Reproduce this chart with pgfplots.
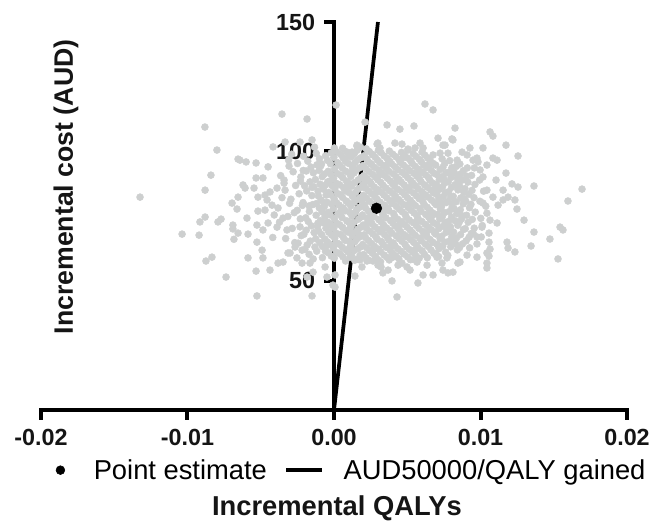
\documentclass[border=0pt]{standalone}
\usepackage{fontspec}
\setmainfont{Liberation Sans}
\usepackage{pgfplots}
\pgfplotsset{compat=1.18}
\definecolor{dotgrey}{HTML}{CDCFCF}
\definecolor{inkblack}{HTML}{151515}
\pgfplotsset{
  pointimg/.style={legend image code/.code={%
    \path[draw=none,fill=none] (0pt,-1pt) rectangle (33pt,1pt);
    \draw[##1] plot coordinates {(10pt,0pt)};}},
  lineimg/.style={legend image code/.code={%
    \path[draw=none,fill=none] (0pt,-1pt) rectangle (41pt,1pt);
    \draw[##1, line width=3pt] (0pt,0pt) -- (27pt,0pt);}},
}
\newcommand{\ticklab}{\fontsize{17.5}{20}\selectfont\bfseries}
\begin{document}
\begin{tikzpicture}
\useasboundingbox (-30.75pt,-87pt) rectangle (456pt,307.5pt);
\begin{axis}[
  scale only axis, width=439.5pt, height=291pt,
  xmin=-0.02, xmax=0.02, ymin=0, ymax=150,
  axis lines=none, xtick=\empty, ytick=\empty,
  clip=false,
  legend columns=2,
  legend style={at={(axis description cs:0.521,-0.155)}, anchor=center,
    draw=none, fill=none, font=\fontsize{20.5}{24}\selectfont,
    nodes={inner sep=0pt},
    /tikz/every odd column/.append style={column sep=2pt},
    /tikz/every even column/.append style={column sep=13pt}},
  legend cell align=left,
]

% axes and ticks (drawn first, so the cloud lies over them)
\addplot[black, line width=3pt, line cap=rect, forget plot] coordinates {(-0.02,0) (0.02,0)};
\addplot[black, line width=3pt, line cap=rect, forget plot] coordinates {(0,0) (0,150)};
\addplot[black, line width=3pt, forget plot] coordinates {(-0.02,0) (-0.02,-3.9)};
\addplot[black, line width=3pt, forget plot] coordinates {(-0.01,0) (-0.01,-3.9)};
\addplot[black, line width=3pt, forget plot] coordinates {(0,0) (0,-3.9)};
\addplot[black, line width=3pt, forget plot] coordinates {(0.01,0) (0.01,-3.9)};
\addplot[black, line width=3pt, forget plot] coordinates {(0.02,0) (0.02,-3.9)};
\addplot[black, line width=3pt, forget plot] coordinates {(0,50) (-0.00068,50)};
\addplot[black, line width=3pt, forget plot] coordinates {(0,100) (-0.00068,100)};
\addplot[black, line width=3pt, forget plot] coordinates {(0,150) (-0.00068,150)};
\node[font=\ticklab, text=inkblack, anchor=north, inner sep=0pt, yshift=-14.5pt] at (axis cs:-0.02,0) {-0.02};
\node[font=\ticklab, text=inkblack, anchor=north, inner sep=0pt, yshift=-14.5pt] at (axis cs:-0.01,0) {-0.01};
\node[font=\ticklab, text=inkblack, anchor=north, inner sep=0pt, yshift=-14.5pt] at (axis cs:0,0) {0.00};
\node[font=\ticklab, text=inkblack, anchor=north, inner sep=0pt, yshift=-14.5pt] at (axis cs:0.01,0) {0.01};
\node[font=\ticklab, text=inkblack, anchor=north, inner sep=0pt, yshift=-14.5pt] at (axis cs:0.02,0) {0.02};
\node[font=\ticklab, text=inkblack, anchor=east, inner sep=0pt, xshift=-14pt] at (axis cs:0,50) {50};
\node[font=\ticklab, text=inkblack, anchor=east, inner sep=0pt, xshift=-14pt] at (axis cs:0,100) {100};
\node[font=\ticklab, text=inkblack, anchor=east, inner sep=0pt, xshift=-14pt] at (axis cs:0,150) {150};

% bootstrap replicates
\addplot[only marks, mark=*, mark size=2.6pt, color=dotgrey, forget plot] coordinates {
% core, first layer
(-0.00245,64.5) (-0.00232,70.8) (-0.00251,77.2) (-0.00238,83.6) (-0.00226,90.1) (-0.00249,95.3)
(-0.00198,62.1) (-0.00206,67.9) (-0.00193,74.3) (-0.00211,80.2) (-0.00201,86.7) (-0.00189,92.4) (-0.00208,98.1)
(-0.00162,65.3) (-0.00155,71.2) (-0.00168,76.8) (-0.00151,82.9) (-0.00164,88.2) (-0.00157,93.9) (-0.0017,60.2)
(-0.00118,61.4) (-0.00125,66.2) (-0.00113,70.9) (-0.00122,75.3) (-0.0012,79.8) (-0.00109,84.6) (-0.00127,89.1) (-0.00116,94.8) (-0.00121,99.2)
(-0.00078,63.2) (-0.00084,67.8) (-0.00075,72.4) (-0.00081,76.6) (-0.00088,81.2) (-0.00073,85.4) (-0.0008,90.2) (-0.00086,95.1) (-0.00079,58.9)
(-0.00038,60.8) (-0.00044,64.9) (-0.00035,68.7) (-0.00042,72.6) (-0.0004,76.4) (-0.00047,80.3) (-0.00036,84.1) (-0.00043,88.2) (-0.00039,92.3) (-0.00045,96.5)
(0.00002,58.7) (-0.00004,62.6) (0.00005,66.4) (-0.00002,70.1) (0.00003,73.9) (-0.00005,77.8) (0.00001,81.6) (0.00006,85.5) (-0.00003,89.4) (0.00004,93.2) (-0.00001,97.6) (0.00002,101.3)
(0.00041,60.4) (0.00036,64.1) (0.00045,67.9) (0.00039,71.6) (0.00043,75.5) (0.00035,79.2) (0.00042,83.3) (0.00038,87.1) (0.00046,90.8) (0.00037,94.7) (0.00044,98.9)
(0.00079,57.6) (0.00084,61.8) (0.00076,65.6) (0.00082,69.3) (0.00088,73.1) (0.00075,77) (0.00083,80.8) (0.00078,84.7) (0.00086,88.4) (0.0008,92.3) (0.00077,96.1) (0.00085,99.8)
(0.00121,59.7) (0.00116,63.5) (0.00125,67.4) (0.00118,71.2) (0.00123,75) (0.00114,78.9) (0.00126,82.6) (0.00119,86.5) (0.00115,90.3) (0.00124,94.2) (0.0012,97.9)
(0.00158,58.3) (0.00164,62.4) (0.00155,66.1) (0.00161,69.9) (0.00167,73.8) (0.00156,77.6) (0.00163,81.5) (0.00159,85.2) (0.00166,89) (0.00154,92.8) (0.00162,96.7) (0.00157,100.4)
(0.00203,60.1) (0.00196,64) (0.00205,67.7) (0.00199,71.5) (0.00194,75.4) (0.00207,79.3) (0.00201,83) (0.00195,86.9) (0.00204,90.6) (0.00198,94.5) (0.00206,98.3)
(0.00237,57.9) (0.00244,61.6) (0.00236,65.5) (0.00242,69.2) (0.00246,73.1) (0.00235,76.9) (0.00243,80.7) (0.00238,84.6) (0.00245,88.3) (0.00239,92.2) (0.00234,96) (0.00241,99.9)
(0.00283,59.4) (0.00276,63.3) (0.00285,67) (0.00279,70.8) (0.00274,74.7) (0.00286,78.5) (0.00281,82.4) (0.00275,86.2) (0.00284,90) (0.00277,93.8) (0.00282,97.7)
(0.00317,61.2) (0.00324,65.1) (0.00315,68.9) (0.00322,72.7) (0.00326,76.5) (0.00316,80.3) (0.00323,84.2) (0.00319,88) (0.00325,91.8) (0.00314,95.6) (0.00321,99.5) (0.00318,57.3)
(0.00362,59) (0.00356,62.9) (0.00365,66.7) (0.00359,70.4) (0.00354,74.3) (0.00366,78.1) (0.00361,82) (0.00355,85.8) (0.00364,89.6) (0.00357,93.4) (0.00363,97.3)
(0.00397,60.7) (0.00404,64.6) (0.00395,68.4) (0.00402,72.2) (0.00406,76) (0.00396,79.8) (0.00403,83.7) (0.00399,87.5) (0.00405,91.3) (0.00394,95.1) (0.00401,98.9)
(0.00442,58.5) (0.00436,62.3) (0.00445,66.2) (0.00439,70) (0.00434,73.8) (0.00446,77.6) (0.00441,81.4) (0.00435,85.3) (0.00444,89.1) (0.00437,92.9) (0.00443,96.8)
(0.00477,60.3) (0.00484,64.1) (0.00475,67.9) (0.00482,71.7) (0.00486,75.6) (0.00476,79.4) (0.00483,83.2) (0.00479,87) (0.00485,90.9) (0.00474,94.7) (0.00481,98.5)
(0.00522,58.1) (0.00516,62) (0.00525,65.8) (0.00519,69.6) (0.00514,73.4) (0.00526,77.2) (0.00521,81.1) (0.00515,84.9) (0.00524,88.7) (0.00517,92.5) (0.00523,96.4)
(0.00557,59.8) (0.00564,63.7) (0.00555,67.5) (0.00562,71.3) (0.00566,75.1) (0.00556,79) (0.00563,82.8) (0.00559,86.6) (0.00565,90.4) (0.00554,94.2) (0.00561,98)
(0.00602,61.5) (0.00596,65.4) (0.00605,69.1) (0.00599,72.9) (0.00594,76.8) (0.00606,80.6) (0.00601,84.4) (0.00595,88.2) (0.00604,92) (0.00597,95.9)
(0.00637,58.9) (0.00644,63.2) (0.00635,67) (0.00642,70.8) (0.00646,74.6) (0.00636,78.4) (0.00643,82.3) (0.00639,86.1) (0.00645,89.9) (0.00634,93.7) (0.0064,97.4)
(0.00682,60.6) (0.00676,64.8) (0.00685,68.6) (0.00679,72.4) (0.00674,76.2) (0.00686,80.1) (0.00681,83.9) (0.00675,87.7) (0.00684,91.5) (0.00677,95.3)
(0.00717,62.4) (0.00724,66.3) (0.00715,70.1) (0.00722,73.9) (0.00726,77.7) (0.00716,81.6) (0.00723,85.4) (0.00719,89.2) (0.00725,93) (0.00714,59.3)
(0.00762,61) (0.00756,64.9) (0.00765,68.7) (0.00759,72.5) (0.00754,76.3) (0.00766,80.2) (0.00761,84) (0.00755,87.8) (0.00764,91.6) (0.00757,95.4)
(0.00797,63.1) (0.00804,67) (0.00795,70.8) (0.00802,74.6) (0.00806,78.4) (0.00796,82.3) (0.00803,86.1) (0.00799,89.9) (0.00805,93.7)
(0.00842,61.9) (0.00836,66.5) (0.00845,71.4) (0.00839,75.9) (0.00834,80.5) (0.00846,85.1) (0.00841,89.6) (0.00835,94.2)
(0.00877,64.2) (0.00884,69.8) (0.00875,75.1) (0.00882,79.7) (0.00886,84.3) (0.00876,88.9) (0.00883,92.5)
(0.00922,66.8) (0.00916,72.6) (0.00925,78.2) (0.00919,83.4) (0.00914,88.1) (0.00926,62.7)
(0.00957,70.3) (0.00964,76.5) (0.00955,82.1) (0.00962,87.2) (0.00958,93.6)
(0.01002,74.1) (0.00996,80.7) (0.01005,66.9) (0.01021,84.6) (0.01036,78.8) (0.00994,88.9) (0.01012,71.3)
% core, second layer
(-0.00224,67.4) (-0.00216,79.1) (-0.00229,88.5)
(-0.00183,63.8) (-0.00176,72.9) (-0.00187,84.7) (-0.00179,96.2)
(-0.00142,58.4) (-0.00136,68.6) (-0.00145,79.4) (-0.00138,86.3) (-0.00141,91.7) (-0.00133,101.6)
(-0.00097,64.7) (-0.00104,69.1) (-0.00093,73.2) (-0.001,78.1) (-0.00106,82.7) (-0.00095,87.3) (-0.00102,92.6) (-0.00099,97.1)
(-0.00058,61.4) (-0.00062,66.1) (-0.00055,70.3) (-0.00061,74.8) (-0.00066,78.7) (-0.00054,83.1) (-0.0006,86.9) (-0.00065,91.2) (-0.00057,98.3)
(-0.00018,59.5) (-0.00023,64) (-0.00016,67.6) (-0.00021,71.8) (-0.00025,75.4) (-0.00017,79.7) (-0.00022,83.2) (-0.00015,86.8) (-0.0002,91.1) (-0.00024,95.2) (-0.00019,99.4)
(0.00019,60.9) (0.00024,64.4) (0.00016,68.3) (0.00021,72.1) (0.00026,75.9) (0.00018,80.1) (0.00023,83.7) (0.00017,87.6) (0.00022,91.4) (0.00025,95.6) (0.00018,99.8)
(0.00061,59.2) (0.00057,62.9) (0.00064,66.7) (0.00059,70.6) (0.00055,74.4) (0.00063,78.1) (0.00058,82.2) (0.00066,85.9) (0.0006,89.8) (0.00056,93.6) (0.00062,97.5) (0.00059,101.2)
(0.00098,61.1) (0.00104,65.2) (0.00096,68.8) (0.00101,72.6) (0.00107,76.4) (0.00095,80.2) (0.00102,84.1) (0.00099,87.8) (0.00105,91.6) (0.00097,95.4) (0.00103,98.1)
(0.00141,57.9) (0.00136,61.6) (0.00144,65.1) (0.00139,68.7) (0.00135,72.5) (0.00143,76.2) (0.00138,80.3) (0.00146,84) (0.0014,87.9) (0.00137,91.7) (0.00142,95.5) (0.00139,99.1)
(0.00178,59.9) (0.00184,63.1) (0.00176,66.9) (0.00181,70.6) (0.00186,74.6) (0.00175,78.4) (0.00182,82.2) (0.00179,85.9) (0.00185,89.8) (0.00177,93.7) (0.00183,97.5) (0.00181,101.6)
(0.00219,58.8) (0.00224,62.7) (0.00216,66.6) (0.00221,70.3) (0.00226,74.2) (0.00215,78.1) (0.00222,81.9) (0.00218,85.7) (0.00225,89.5) (0.00217,93.3) (0.00223,97.1) (0.0022,101)
(0.00262,60.6) (0.00256,64.4) (0.00265,68.1) (0.00259,72) (0.00254,75.8) (0.00266,79.6) (0.00261,83.5) (0.00255,87.3) (0.00264,91.1) (0.00257,94.9) (0.00263,98.8)
(0.00298,58.2) (0.00304,62.2) (0.00296,66) (0.00301,69.8) (0.00306,73.6) (0.00295,81.4) (0.00302,85.1) (0.00299,89) (0.00305,92.8) (0.00297,96.6) (0.00303,100.4)
(0.00342,59.9) (0.00336,63.9) (0.00345,67.8) (0.00339,71.5) (0.00334,75.4) (0.00346,79.2) (0.00341,83.1) (0.00335,86.9) (0.00344,90.7) (0.00337,94.5) (0.00343,98.2)
(0.00377,58) (0.00384,61.8) (0.00375,65.6) (0.00382,69.4) (0.00386,73.2) (0.00376,77) (0.00383,80.9) (0.00379,84.7) (0.00385,88.5) (0.00374,92.3) (0.00381,96.1) (0.00378,100.1)
(0.00422,59.6) (0.00416,63.5) (0.00425,67.3) (0.00419,71.1) (0.00414,74.9) (0.00426,78.7) (0.00421,82.6) (0.00415,86.4) (0.00424,90.2) (0.00417,94) (0.00423,97.9)
(0.00457,61.4) (0.00464,65.2) (0.00455,69) (0.00462,72.8) (0.00466,76.6) (0.00456,80.5) (0.00463,84.3) (0.00459,88.1) (0.00465,91.9) (0.00454,95.7) (0.00461,99.6)
(0.00502,59.2) (0.00496,63) (0.00505,66.8) (0.00499,70.7) (0.00494,74.5) (0.00506,78.3) (0.00501,82.1) (0.00495,85.9) (0.00504,89.8) (0.00497,93.6) (0.00503,97.4)
(0.00537,61) (0.00544,64.8) (0.00535,68.6) (0.00542,72.4) (0.00546,76.2) (0.00536,80) (0.00543,83.9) (0.00539,87.7) (0.00545,91.5) (0.00534,95.3) (0.00541,99.1)
(0.00582,58.7) (0.00576,62.6) (0.00585,66.4) (0.00579,70.2) (0.00574,74) (0.00586,77.9) (0.00581,81.7) (0.00575,85.5) (0.00584,89.3) (0.00577,93.1) (0.00583,96.9)
(0.00617,60.2) (0.00624,64.1) (0.00615,67.9) (0.00622,71.8) (0.00626,75.6) (0.00616,79.4) (0.00623,83.2) (0.00619,87) (0.00625,90.9) (0.00614,94.7) (0.00621,98.5)
(0.00662,61.9) (0.00656,65.9) (0.00665,69.7) (0.00659,73.5) (0.00654,77.3) (0.00666,81.1) (0.00661,85) (0.00655,88.8) (0.00664,92.6) (0.00657,96.4)
(0.00697,60.3) (0.00704,64.1) (0.00695,68) (0.00702,71.8) (0.00706,75.6) (0.00696,79.4) (0.00703,83.3) (0.00699,87.1) (0.00705,90.9) (0.00694,94.7)
(0.00742,63.3) (0.00736,67.2) (0.00745,71) (0.00739,74.8) (0.00734,78.6) (0.00746,82.5) (0.00741,86.3) (0.00735,90.1) (0.00744,93.9) (0.00738,97.1)
(0.00777,59.8) (0.00784,65.2) (0.00775,69.1) (0.00782,72.9) (0.00786,76.7) (0.00776,80.6) (0.00783,84.4) (0.00779,88.2) (0.00785,92)
(0.00822,64.9) (0.00816,68.8) (0.00825,73.2) (0.00819,77.8) (0.00814,82.6) (0.00826,87.1) (0.00821,91.8)
(0.00857,62.8) (0.00864,67.8) (0.00855,72.6) (0.00862,77.4) (0.00866,82) (0.00856,86.7) (0.00863,91.2) (0.00859,95.1)
(0.00902,65.4) (0.00896,70.1) (0.00905,75.3) (0.00899,80.8) (0.00894,85.6) (0.00906,90.4)
(0.00937,68.2) (0.00944,73.7) (0.00935,79.5) (0.00942,84.9) (0.00939,90.7)
% core, loose points in between
(0.0001,64.3) (0.0005,77.5) (0.0009,86.5) (0.0011,70.4) (0.0013,93.1) (0.0017,67.9) (0.0019,80.9) (0.0021,88.1)
(0.0023,72.5) (0.0025,95.3) (0.0027,61.9) (0.0029,84.3) (0.0031,90.9) (0.0033,69.9) (0.0035,77.2) (0.0037,95.6)
(0.0039,63.4) (0.0041,81.2) (0.0043,88.6) (0.0045,71.6) (0.0047,97.5) (0.0049,67.2) (0.0051,79.5) (0.0053,86.9)
(0.0055,61.8) (0.0057,73.4) (0.0059,91.7) (0.0061,82.9) (0.0063,68.4) (0.0065,95) (0.0067,75.1) (0.0069,85.6)
(0.0071,63.7) (0.0073,80.1) (0.0075,89.2) (0.0077,70.3) (0.0079,96.4) (0.0081,79.9) (0.0083,64.2) (0.0085,88.3)
(0.0087,73.8) (0.0089,81.6) (0.0091,93.6) (-0.0001,70.6) (-0.0003,88.5) (-0.0005,63.5) (-0.0007,80.1) (-0.0009,94.4)
(-0.0011,72.2) (-0.0013,63) (-0.0015,86.1) (-0.0017,78.9) (-0.0019,69.5) (-0.0021,92.6) (-0.0023,73.9)
% left side
(-0.00881,109.4) (-0.00799,100.5) (-0.00655,97) (-0.0084,90.8) (-0.0088,85) (-0.01324,82.3) (-0.00655,82.3)
(-0.00696,80) (-0.00662,77.7) (-0.00915,72.7) (-0.0088,74.6) (-0.00792,72.7) (-0.00771,73.8) (-0.0069,71.5)
(-0.0069,70) (-0.00655,68.4) (-0.01037,68) (-0.00921,67.6) (-0.00683,66) (-0.00874,57.6) (-0.00833,59.1) (-0.00737,51.4)
(-0.006,95.9) (-0.00532,95.5) (-0.0045,94) (-0.00532,89.7) (-0.00621,87) (-0.00607,85.8) (-0.00546,85.8)
(-0.00355,114.4) (-0.00184,112.5) (-0.00416,101.7) (-0.00334,103.6) (-0.00232,103.6) (-0.0015,104.4)
(-0.00307,94.3) (-0.00341,88.9) (-0.00341,87.7) (-0.00485,89.7) (-0.00519,82.3) (-0.00471,83.1) (-0.00437,84.3)
(-0.00389,85.8) (-0.00519,76.9) (-0.00471,77.3) (-0.00423,79.2) (-0.00382,78.1) (-0.00594,74.2) (-0.00526,71.5)
(-0.00485,69.6) (-0.0045,72.3) (-0.00389,70.7) (-0.00348,74.2) (-0.00321,69.6) (-0.00587,68) (-0.00526,64.9)
(-0.00491,61.8) (-0.00485,58.8) (-0.00587,58.8) (-0.00532,53.7) (-0.00437,54.1) (-0.00382,56.8) (-0.00348,57.2)
(-0.00314,60.7) (-0.00266,63) (-0.00253,58.8) (-0.00218,56.8) (-0.00143,53.3) (-0.00526,44.1) (-0.0015,44.1)
(-0.00457,81.2) (-0.00642,96.6) (-0.00334,85)
(-0.00285,70.2) (-0.00271,76.3) (-0.00294,81.5) (-0.00262,86.8) (-0.00279,92.1) (-0.00268,64.7) (-0.00315,74.8)
(-0.00303,79.9) (-0.0033,66.3) (-0.00355,82.1) (-0.00372,72.6) (-0.00408,75.4) (-0.0031,96.6) (-0.00289,98.9)
(-0.00418,66.7) (-0.00364,90.6)
(-0.003,60.7) (-0.00218,61.8) (-0.00164,56.8) (-0.00061,55.3) (-0.00007,48.3) (-0.00184,51.4) (-0.00048,51.4)
% top
(0.00014,117.9) (0.00621,118.3) (0.00676,116) (0.00362,110.2) (0.0045,108.6) (0.00546,109.8) (0.00212,111.3)
(0.0071,105.1) (0.00416,103.2) (0.00464,102.8) (0.00294,102.8) (0.00157,102) (0.00109,99.3) (0.00812,104.4)
(0.00758,102.4) (0.00505,100.9) (0.00553,101.3) (0.00601,99.7) (0.00676,98.6) (0.00724,99.3) (0.0084,96.6) (0.00266,98.6)
(0.00123,99.7) (0.00157,102.4) (0.003,103.2) (0.00314,101.3) (0.00505,100.5) (0.00587,103.2) (0.00608,101.3)
(0.00744,102.4) (0.00778,99.3) (0.00874,99.7) (0.00908,98.6) (0.00976,97.4)
% upper right
(0.00826,109) (0.01065,107.5) (0.01085,105.9) (0.00805,104.8) (0.01174,102.4) (0.01017,101.3) (0.00928,101.3)
(0.01256,98.2) (0.01085,97.4) (0.01113,96.6) (0.00949,96.6) (0.00983,95.9) (0.01044,94.7) (0.01174,91.6) (0.01106,88.9)
% right
(0.01693,85.4) (0.01365,86.6) (0.01256,86.2) (0.01215,87.4) (0.01154,85) (0.01597,80.8) (0.01235,81.2)
(0.01188,82.3) (0.01249,77.7) (0.0112,79.2) (0.01297,73.4) (0.01365,68.8) (0.01543,70.7) (0.01563,69.6)
(0.01474,66.1) (0.01345,63.4) (0.01529,58.4) (0.01235,61.1) (0.01181,64.9) (0.01188,62.6) (0.01113,72.3)
(0.01058,68.4) (0.01058,64.9) (0.01065,62.2) (0.01058,59.5) (0.01044,56.8) (0.01044,54.9) (0.00976,64.2) (0.0086,57.2)
(0.00997,92.8) (0.01017,90.1) (0.01044,85) (0.01085,82.3) (0.01017,80) (0.01044,76.1) (0.01065,73.4)
(0.0101,70.7) (0.00949,68.4) (0.00976,66.9) (0.01154,81.2)
% bottom
(0.00846,56.8) (0.00812,53.3) (0.00778,53) (0.00744,54.1) (0.00737,56.8) (0.00676,52.2) (0.00608,52.2)
(0.00573,49.1) (0.00519,54.1) (0.0043,43.7) (0.00396,49.9) (0.00334,53) (0.00321,55.3) (0.00225,57.6)
(0.00266,57.6) (0.00191,55.3) (0.00143,51.8) (0.00464,56.8) (0.00498,55.3) (0.00553,58) (0.00403,59.1)
(0.00007,52.2) (0.00007,47.5) (0.00089,61.8) (0.00109,63)
(0.00109,59.1) (0.00177,58) (0.003,56) (0.00369,54.1) (0.00437,56) (0.00567,57.2) (0.00635,56)
(0.00703,59.1) (0.00771,58.8) (0.00908,59.9) (0.00976,59.1) (0.01044,60.7)
};

% willingness-to-pay threshold AUD 50000 per QALY
\addplot[black, line width=2.8pt, forget plot] coordinates {(0,0) (0.003,150)};

% point estimate
\addplot[only marks, mark=*, mark size=4pt, color=black, forget plot] coordinates {(0.0029,78)};

\addlegendimage{only marks, mark=*, mark size=3.3pt, black, pointimg}
\addlegendentry{Point estimate}
\addlegendimage{black, lineimg}
\addlegendentry{AUD50000/QALY gained}

\node[font=\fontsize{20.5}{24}\selectfont\bfseries, text=inkblack] at (axis description cs:0.505,-0.2526) {Incremental QALYs};
\node[font=\fontsize{20}{24}\selectfont\bfseries, text=inkblack, rotate=90] at (axis description cs:0.0427,0.575) {Incremental cost (AUD)};
\end{axis}
\end{tikzpicture}
\end{document}
